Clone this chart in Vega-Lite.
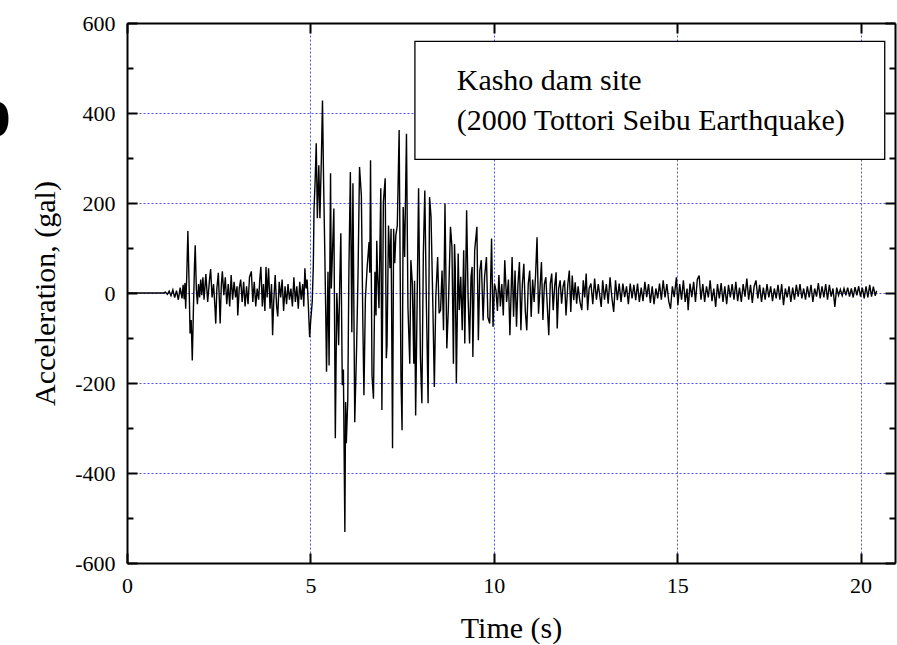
{
  "$schema": "https://vega.github.io/schema/vega-lite/v6.json",
  "autosize": {"type": "none"},
  "padding": {"left": 127, "top": 23, "right": 2, "bottom": 82},
  "width": 768,
  "height": 540,
  "background": "white",
  "title": {"text": "b", "font": "Liberation Sans", "fontSize": 64, "fontWeight": "bold", "anchor": "start", "frame": "group", "orient": "top", "offset": 0, "baseline": "alphabetic", "dx": -155, "dy": 188, "color": "black"},
  "data": {"values": [
    {"t":0,"a":0},{"t":0.5,"a":0},{"t":0.9,"a":0},{"t":1.0,"a":0},{"t":1.05,"a":2},{"t":1.1,"a":-3},{"t":1.15,"a":4},{"t":1.2,"a":-6},{"t":1.25,"a":7},{"t":1.3,"a":-10},{"t":1.35,"a":5},{"t":1.4,"a":-15},{"t":1.45,"a":12},{"t":1.5,"a":-12},{"t":1.53,"a":18},{"t":1.56,"a":-14},{"t":1.58,"a":22},{"t":1.6,"a":-35},{"t":1.63,"a":40},{"t":1.66,"a":138},{"t":1.69,"a":30},{"t":1.72,"a":-90},{"t":1.75,"a":-60},{"t":1.78,"a":-150},{"t":1.81,"a":-40},{"t":1.84,"a":60},{"t":1.86,"a":106},{"t":1.89,"a":10},{"t":1.92,"a":-25},{"t":1.95,"a":20},{"t":1.98,"a":-10},{"t":2.01,"a":30},{"t":2.04,"a":-5},{"t":2.07,"a":35},
    {"t":2.1,"a":-15},{"t":2.15,"a":42},{"t":2.2,"a":-20},{"t":2.25,"a":30},{"t":2.28,"a":53},{"t":2.32,"a":-10},{"t":2.36,"a":20},{"t":2.4,"a":-35},{"t":2.42,"a":-68},{"t":2.45,"a":10},{"t":2.49,"a":45},{"t":2.52,"a":-20},{"t":2.54,"a":-68},{"t":2.57,"a":15},{"t":2.6,"a":48},{"t":2.64,"a":-5},{"t":2.68,"a":35},{"t":2.72,"a":-25},{"t":2.76,"a":20},{"t":2.8,"a":-30},{"t":2.84,"a":40},{"t":2.88,"a":-15},{"t":2.92,"a":25},{"t":2.96,"a":-10},{"t":3.0,"a":15},{"t":3.02,"a":-50},{"t":3.06,"a":10},{"t":3.1,"a":30},{"t":3.14,"a":-20},{"t":3.18,"a":25},{"t":3.22,"a":-30},{"t":3.26,"a":15},{"t":3.3,"a":-25},{"t":3.34,"a":35},{"t":3.39,"a":48},{"t":3.43,"a":-20},{"t":3.47,"a":25},{"t":3.51,"a":-30},{"t":3.55,"a":10},{"t":3.59,"a":-15},{"t":3.62,"a":30},{"t":3.65,"a":58},{"t":3.69,"a":-30},{"t":3.72,"a":20},{"t":3.76,"a":-40},{"t":3.79,"a":58},{"t":3.82,"a":-10},{"t":3.86,"a":55},{"t":3.9,"a":-35},{"t":3.94,"a":20},{"t":3.97,"a":-94},{"t":4.0,"a":-20},{"t":4.04,"a":40},{"t":4.08,"a":-30},{"t":4.11,"a":-52},{"t":4.15,"a":25},{"t":4.19,"a":-10},{"t":4.23,"a":30},{"t":4.27,"a":-40},{"t":4.31,"a":15},{"t":4.35,"a":-25},{"t":4.39,"a":20},{"t":4.43,"a":-15},{"t":4.47,"a":10},{"t":4.51,"a":-30},{"t":4.55,"a":35},{"t":4.59,"a":-20},{"t":4.63,"a":15},{"t":4.67,"a":-35},{"t":4.71,"a":25},{"t":4.75,"a":-15},{"t":4.79,"a":20},{"t":4.82,"a":-30},{"t":4.85,"a":55},{"t":4.88,"a":10},{"t":4.91,"a":30},{"t":4.94,"a":-20},{"t":4.98,"a":-98},{"t":5.01,"a":-60},{"t":5.05,"a":-20},{"t":5.08,"a":60},
    {"t":5.1,"a":188},{"t":5.13,"a":250},{"t":5.16,"a":333},{"t":5.19,"a":166},{"t":5.23,"a":284},{"t":5.26,"a":166},{"t":5.3,"a":300},{"t":5.33,"a":428},{"t":5.36,"a":250},{"t":5.39,"a":106},{"t":5.42,"a":-50},{"t":5.44,"a":-175},{"t":5.46,"a":-60},{"t":5.48,"a":47},{"t":5.51,"a":-161},{"t":5.55,"a":266},{"t":5.57,"a":10},{"t":5.6,"a":84},{"t":5.64,"a":188},{"t":5.68,"a":-323},{"t":5.72,"a":0},{"t":5.75,"a":-60},{"t":5.77,"a":-116},{"t":5.8,"a":20},{"t":5.83,"a":133},{"t":5.87,"a":-205},{"t":5.9,"a":-170},{"t":5.94,"a":-531},{"t":5.96,"a":-242},{"t":5.98,"a":-334},{"t":6.02,"a":-235},{"t":6.05,"a":50},{"t":6.09,"a":269},{"t":6.13,"a":-87},{"t":6.16,"a":244},{"t":6.21,"a":-287},{"t":6.26,"a":-122},{"t":6.3,"a":47},{"t":6.34,"a":280},{"t":6.39,"a":217},{"t":6.43,"a":-64},{"t":6.46,"a":-227},{"t":6.5,"a":-12},{"t":6.55,"a":60},{"t":6.6,"a":113},{"t":6.62,"a":45},{"t":6.64,"a":295},{"t":6.68,"a":-183},{"t":6.72,"a":-235},{"t":6.76,"a":47},{"t":6.79,"a":-50},{"t":6.81,"a":116},{"t":6.83,"a":47},{"t":6.87,"a":-34},{"t":6.92,"a":233},{"t":6.95,"a":-260},{"t":6.99,"a":202},{"t":7.04,"a":255},{"t":7.07,"a":-145},{"t":7.09,"a":-116},{"t":7.13,"a":150},{"t":7.17,"a":55},{"t":7.2,"a":143},{"t":7.24,"a":-345},{"t":7.27,"a":143},{"t":7.3,"a":66},{"t":7.33,"a":128},{"t":7.37,"a":150},{"t":7.42,"a":362},{"t":7.47,"a":-187},{"t":7.5,"a":-305},{"t":7.53,"a":191},{"t":7.57,"a":80},{"t":7.62,"a":354},{"t":7.66,"a":-31},{"t":7.71,"a":-157},{"t":7.74,"a":73},{"t":7.78,"a":21},{"t":7.82,"a":-157},{"t":7.84,"a":27},{"t":7.87,"a":-272},{"t":7.91,"a":-23},{"t":7.95,"a":233},{"t":8.0,"a":-142},{"t":8.04,"a":-245},{"t":8.08,"a":88},{"t":8.12,"a":228},{"t":8.16,"a":-9},{"t":8.21,"a":-245},{"t":8.25,"a":213},{"t":8.29,"a":169},{"t":8.34,"a":-31},{"t":8.38,"a":-209},{"t":8.42,"a":-9},{"t":8.47,"a":80},{"t":8.51,"a":-45},{"t":8.55,"a":-38},{"t":8.59,"a":50},{"t":8.63,"a":-83},{"t":8.67,"a":199},{"t":8.72,"a":-123},{"t":8.76,"a":-38},{"t":8.82,"a":147},{"t":8.86,"a":102},{"t":8.9,"a":-157},{"t":8.93,"a":109},{"t":8.95,"a":58},{"t":8.98,"a":-200},{"t":9.03,"a":88},{"t":9.06,"a":-38},{"t":9.1,"a":36},{"t":9.14,"a":-83},{"t":9.18,"a":95},{"t":9.21,"a":-112},{"t":9.26,"a":184},{"t":9.3,"a":-9},{"t":9.34,"a":-112},{"t":9.38,"a":36},{"t":9.41,"a":58},{"t":9.43,"a":-142},{"t":9.48,"a":95},{"t":9.54,"a":147},{"t":9.58,"a":-105},{"t":9.62,"a":50},{"t":9.66,"a":73},{"t":9.71,"a":-61},{"t":9.75,"a":36},{"t":9.8,"a":80},{"t":9.84,"a":-54},{"t":9.89,"a":-68},{"t":9.94,"a":121},{"t":9.98,"a":-75},
    {"t":10.02,"a":21},{"t":10.06,"a":6},{"t":10.1,"a":-40},{"t":10.14,"a":40},{"t":10.18,"a":-30},{"t":10.22,"a":20},{"t":10.26,"a":-50},{"t":10.3,"a":73},{"t":10.35,"a":-20},{"t":10.4,"a":30},{"t":10.44,"a":-94},{"t":10.5,"a":80},{"t":10.54,"a":-53},{"t":10.58,"a":50},{"t":10.62,"a":-75},{"t":10.66,"a":20},{"t":10.7,"a":69},{"t":10.74,"a":-83},{"t":10.78,"a":20},{"t":10.82,"a":65},{"t":10.86,"a":-40},{"t":10.9,"a":-83},{"t":10.94,"a":20},{"t":10.98,"a":50},{"t":11.02,"a":-53},{"t":11.06,"a":30},{"t":11.1,"a":-20},{"t":11.14,"a":40},{"t":11.18,"a":124},{"t":11.22,"a":-46},{"t":11.26,"a":10},{"t":11.3,"a":69},{"t":11.34,"a":-60},{"t":11.38,"a":20},{"t":11.42,"a":35},{"t":11.46,"a":-30},{"t":11.5,"a":-94},{"t":11.54,"a":20},{"t":11.58,"a":43},{"t":11.62,"a":-38},{"t":11.66,"a":15},{"t":11.7,"a":46},{"t":11.73,"a":-79},{"t":11.77,"a":10},{"t":11.81,"a":28},{"t":11.85,"a":-24},{"t":11.89,"a":15},{"t":11.93,"a":28},{"t":11.97,"a":-50},{"t":12.02,"a":20},{"t":12.06,"a":50},{"t":12.1,"a":-42},{"t":12.14,"a":39},{"t":12.18,"a":-16},{"t":12.22,"a":24},{"t":12.26,"a":-24},{"t":12.3,"a":15},{"t":12.35,"a":-20},{"t":12.4,"a":-38},{"t":12.44,"a":28},{"t":12.48,"a":-10},{"t":12.52,"a":43},{"t":12.56,"a":-38},{"t":12.6,"a":10},{"t":12.65,"a":21},{"t":12.7,"a":-25},{"t":12.75,"a":32},{"t":12.8,"a":-15},{"t":12.85,"a":20},{"t":12.93,"a":-31},{"t":12.97,"a":28},{"t":13.02,"a":-15},{"t":13.07,"a":20},{"t":13.12,"a":-24},{"t":13.17,"a":35},{"t":13.22,"a":-10},{"t":13.27,"a":-42},{"t":13.32,"a":28},{"t":13.37,"a":-16},{"t":13.42,"a":21},{"t":13.47,"a":-20},{"t":13.52,"a":21},{"t":13.57,"a":-9},{"t":13.62,"a":15},{"t":13.67,"a":-25},{"t":13.72,"a":21},{"t":13.77,"a":-12},{"t":13.82,"a":18},{"t":13.87,"a":-16},{"t":13.92,"a":21},{"t":13.97,"a":-20},{"t":14.02,"a":12},{"t":14.07,"a":-18},{"t":14.12,"a":25},{"t":14.17,"a":-9},{"t":14.22,"a":20},{"t":14.27,"a":-22},{"t":14.32,"a":15},{"t":14.37,"a":-25},{"t":14.42,"a":10},{"t":14.47,"a":-12},{"t":14.52,"a":21},{"t":14.57,"a":-15},{"t":14.62,"a":28},{"t":14.67,"a":-10},{"t":14.72,"a":20},{"t":14.77,"a":-18},{"t":14.82,"a":-35},{"t":14.87,"a":15},{"t":14.92,"a":-9},{"t":14.98,"a":35},
    {"t":15.02,"a":-27},{"t":15.07,"a":20},{"t":15.12,"a":-15},{"t":15.17,"a":28},{"t":15.22,"a":-20},{"t":15.27,"a":10},{"t":15.3,"a":-38},{"t":15.35,"a":21},{"t":15.4,"a":-9},{"t":15.45,"a":25},{"t":15.5,"a":-20},{"t":15.55,"a":30},{"t":15.6,"a":39},{"t":15.65,"a":-15},{"t":15.7,"a":20},{"t":15.75,"a":-20},{"t":15.8,"a":15},{"t":15.85,"a":-10},{"t":15.9,"a":28},{"t":15.95,"a":-18},{"t":16.0,"a":10},{"t":16.05,"a":-31},{"t":16.1,"a":20},{"t":16.15,"a":-12},{"t":16.2,"a":22},{"t":16.25,"a":-20},{"t":16.3,"a":15},{"t":16.35,"a":-25},{"t":16.4,"a":18},{"t":16.45,"a":-10},{"t":16.5,"a":20},{"t":16.55,"a":-15},{"t":16.6,"a":25},{"t":16.65,"a":-18},{"t":16.7,"a":12},{"t":16.75,"a":-20},{"t":16.8,"a":20},{"t":16.85,"a":-8},{"t":16.9,"a":32},{"t":16.95,"a":-15},{"t":17.0,"a":18},{"t":17.05,"a":-22},{"t":17.1,"a":15},{"t":17.15,"a":28},{"t":17.2,"a":-12},{"t":17.25,"a":18},{"t":17.3,"a":-20},{"t":17.35,"a":12},{"t":17.4,"a":-15},{"t":17.45,"a":20},{"t":17.5,"a":-10},{"t":17.55,"a":15},{"t":17.6,"a":-18},{"t":17.65,"a":10},{"t":17.7,"a":-12},{"t":17.75,"a":18},{"t":17.8,"a":-15},{"t":17.85,"a":20},{"t":17.9,"a":-27},{"t":17.95,"a":10},{"t":18.0,"a":-10},{"t":18.05,"a":15},{"t":18.1,"a":-20},{"t":18.15,"a":12},{"t":18.2,"a":-15},{"t":18.25,"a":18},{"t":18.3,"a":-8},{"t":18.35,"a":20},{"t":18.4,"a":-12},{"t":18.45,"a":10},{"t":18.5,"a":-15},{"t":18.55,"a":15},{"t":18.6,"a":-10},{"t":18.65,"a":18},{"t":18.7,"a":-20},{"t":18.75,"a":10},{"t":18.8,"a":-8},{"t":18.85,"a":22},{"t":18.9,"a":-12},{"t":18.95,"a":15},{"t":19.0,"a":-10},{"t":19.05,"a":20},{"t":19.1,"a":-15},{"t":19.15,"a":18},{"t":19.2,"a":-8},{"t":19.25,"a":10},{"t":19.3,"a":-31},{"t":19.35,"a":12},{"t":19.4,"a":-5},{"t":19.45,"a":8},{"t":19.5,"a":-6},{"t":19.55,"a":10},{"t":19.6,"a":-5},{"t":19.65,"a":12},{"t":19.7,"a":-8},{"t":19.75,"a":10},{"t":19.8,"a":-10},{"t":19.85,"a":13},{"t":19.9,"a":-5},{"t":19.95,"a":15},{"t":20.0,"a":-8},{"t":20.05,"a":12},{"t":20.1,"a":-12},{"t":20.15,"a":15},{"t":20.2,"a":-10},{"t":20.25,"a":18},{"t":20.3,"a":-8},{"t":20.35,"a":14},{"t":20.4,"a":-6},{"t":20.44,"a":5}
  ]},
  "resolve": {"axis": {"x": "independent", "y": "independent"}},
  "layer": [
    {
      "mark": {"type": "line", "color": "black", "strokeWidth": 1.4},
      "encoding": {
        "x": {"field": "t", "type": "quantitative", "scale": {"domain": [0, 20.94], "nice": false, "zero": false},
              "axis": {"orient": "bottom", "values": [0, 5, 10, 15, 20], "grid": true, "tickSize": -10, "title": "Time (s)", "labelFlush": false, "labelOverlap": false, "labelPadding": 22, "titlePadding": 17}},
        "y": {"field": "a", "type": "quantitative", "scale": {"domain": [-600, 600], "nice": false, "zero": false},
              "axis": {"orient": "left", "values": [-600, -400, -200, 0, 200, 400, 600], "grid": true, "tickSize": -10, "title": "Acceleration, (gal)", "labelFlush": false, "labelOverlap": false, "labelPadding": 22, "labelExpr": "replace(datum.label, '\u2212', '-')", "titlePadding": 14}}
      }
    },
    {
      "mark": {"type": "line", "strokeOpacity": 0},
      "encoding": {
        "x": {"field": "t", "type": "quantitative", "axis": {"orient": "top", "values": [0, 5, 10, 15, 20], "grid": false, "tickSize": -10, "labels": false, "title": null}},
        "y": {"field": "a", "type": "quantitative", "axis": {"orient": "left", "values": [-500, -300, -100, 100, 300, 500], "grid": false, "tickSize": -6, "labels": false, "domain": false, "title": null}}
      }
    },
    {
      "mark": {"type": "line", "strokeOpacity": 0},
      "encoding": {
        "x": {"field": "t", "type": "quantitative", "axis": null},
        "y": {"field": "a", "type": "quantitative", "axis": {"orient": "right", "values": [-600, -400, -200, 0, 200, 400, 600], "grid": false, "tickSize": -10, "labels": false, "title": null}}
      }
    },
    {
      "mark": {"type": "line", "strokeOpacity": 0},
      "encoding": {
        "x": {"field": "t", "type": "quantitative", "axis": null},
        "y": {"field": "a", "type": "quantitative", "axis": {"orient": "right", "values": [-500, -300, -100, 100, 300, 500], "grid": false, "tickSize": -6, "labels": false, "domain": false, "title": null}}
      }
    },
    {
      "data": {"values": [{"box": "note"}]},
      "mark": {"type": "rect", "fill": "white", "stroke": "black", "strokeWidth": 1.3},
      "encoding": {
        "x": {"datum": 7.85, "type": "quantitative", "axis": null},
        "x2": {"datum": 20.66},
        "y": {"datum": 559.3, "type": "quantitative", "axis": null},
        "y2": {"datum": 297.1}
      }
    },
    {
      "data": {"values": [{"box": "note"}]},
      "mark": {"type": "text", "text": ["Kasho dam site", "(2000 Tottori Seibu Earthquake)"], "align": "left", "baseline": "alphabetic", "lineHeight": 40, "font": "Liberation Serif", "fontSize": 30, "color": "black"},
      "encoding": {
        "x": {"datum": 8.99, "type": "quantitative", "axis": null},
        "y": {"datum": 450.4, "type": "quantitative", "axis": null}
      }
    }
  ],
  "config": {
    "font": "Liberation Serif",
    "view": {"stroke": null},
    "axis": {
      "labelFont": "Liberation Serif", "labelFontSize": 22, "labelColor": "black",
      "titleFont": "Liberation Serif", "titleFontSize": 30, "titleFontWeight": "normal", "titleColor": "black",
      "domainColor": "black", "domainWidth": 2, "tickColor": "black", "tickWidth": 2,
      "gridColor": "#5050ff", "gridDash": [2, 2], "gridWidth": 1, "gridOpacity": 1
    }
  }
}
